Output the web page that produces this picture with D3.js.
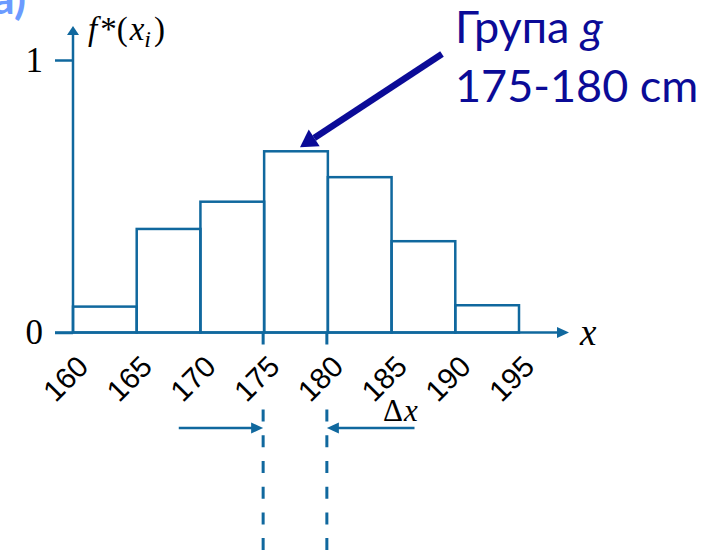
<!DOCTYPE html>
<html>
<head>
<meta charset="utf-8">
<title>Histogram f*(x_i)</title>
<script src="https://d3js.org/d3.v7.min.js"></script>
<style>
  body { margin: 0; background: #fff; }
  svg { display: block; }
</style>
</head>
<body>
<svg id="chart" width="715" height="551"></svg>
<script>
// data
var binEdges = [160, 165, 170, 175, 180, 185, 190, 195];
var binFreq = [0.095, 0.38, 0.48, 0.665, 0.57, 0.335, 0.1];
var xTickLabels = ["160", "165", "170", "175", "180", "185", "190", "195"];
var yTickValues = [0, 1];
var yTickLabels = ["0", "1"];
var groupBin = [175, 180];
var deltaFrom = [168.3, 186.8];
var noteLine1 = "Група ";
var noteLine2 = "175-180 cm";

var blue = "#10689e";
var navy = "#0b0b97";
var svg = d3.select("#chart");

var x = d3.scaleLinear().domain([160, 195]).range([73, 519]);
var y = d3.scaleLinear().domain([0, 1]).range([332.5, 60]);

// dashed guides for group g
svg.selectAll(".guide")
  .data(groupBin)
  .enter().append("line")
    .attr("x1", function(d) { return x(d) - 1; })
    .attr("x2", function(d) { return x(d) - 1; })
    .attr("y1", y(0))
    .attr("y2", 551)
    .attr("stroke", blue)
    .attr("stroke-width", 3)
    .attr("stroke-dasharray", "12,13.7");

// bars
var bins = binFreq.map(function(f, i) {
  return { x0: binEdges[i], x1: binEdges[i + 1], f: f };
});
svg.selectAll(".bar")
  .data(bins)
  .enter().append("rect")
    .attr("x", function(d) { return x(d.x0); })
    .attr("y", function(d) { return y(d.f); })
    .attr("width", function(d) { return x(d.x1) - x(d.x0); })
    .attr("height", function(d) { return y(0) - y(d.f); })
    .attr("fill", "none")
    .attr("stroke", blue)
    .attr("stroke-width", 2.5);

// y axis
var yAxis = d3.axisLeft(y)
  .tickValues(yTickValues)
  .tickFormat(function(d, i) { return yTickLabels[i]; })
  .tickSize(18)
  .tickPadding(12)
  .tickSizeOuter(0);
var yAxisGroup = svg.append("g")
  .attr("transform", "translate(" + x(160) + ",0)")
  .call(yAxis);
yAxisGroup.select(".domain").remove();
yAxisGroup.selectAll(".tick line").attr("stroke", blue).attr("stroke-width", 2.5);
yAxisGroup.selectAll(".tick text")
  .attr("fill", "#000")
  .style("font-family", "'Liberation Serif', serif")
  .style("font-size", "35px");
svg.append("line")
  .attr("x1", x(160)).attr("x2", x(160))
  .attr("y1", y(0)).attr("y2", 35)
  .attr("stroke", blue).attr("stroke-width", 2.5);
svg.append("path")
  .attr("d", "M" + (x(160) - 6) + ",35L" + (x(160) + 6) + ",35L" + x(160) + ",26Z")
  .attr("fill", blue);

// x axis
var labelShift = "translate(-8,46) rotate(-45)";
var xAxis = d3.axisBottom(x)
  .tickValues(binEdges)
  .tickFormat(function(d, i) { return xTickLabels[i]; })
  .tickSize(0);
var xAxisGroup = svg.append("g")
  .attr("transform", "translate(0," + y(0) + ")")
  .call(xAxis);
xAxisGroup.select(".domain").remove();
xAxisGroup.selectAll(".tick text")
  .attr("y", 0)
  .attr("dy", "0.35em")
  .attr("text-anchor", "middle")
  .attr("transform", labelShift)
  .attr("fill", "#000")
  .style("font-family", "'Liberation Sans', Arial, sans-serif")
  .style("font-size", "29.5px");
xAxisGroup.selectAll(".tick").each(function() {
  var t = d3.select(this).select("text");
  var b = t.node().getBBox();
  d3.select(this).insert("rect", "text")
    .attr("x", b.x - 3).attr("y", b.y - 3)
    .attr("width", b.width + 6).attr("height", b.height + 6)
    .attr("transform", labelShift)
    .attr("fill", "#fff");
});
svg.append("line")
  .attr("x1", 55).attr("x2", 558)
  .attr("y1", y(0)).attr("y2", y(0))
  .attr("stroke", blue).attr("stroke-width", 2.5);
svg.append("path")
  .attr("d", "M557," + (y(0) - 5.5) + "L557," + (y(0) + 5.5) + "L569," + y(0) + "Z")
  .attr("fill", blue);

// axis titles
var serif = "'Liberation Serif', 'Times New Roman', serif";
svg.append("text")
  .attr("x", 580).attr("y", 345)
  .style("font-family", serif).style("font-size", "37px").style("font-style", "italic")
  .text("x");
var fLabel = svg.append("text")
  .attr("x", 88).attr("y", 40)
  .style("font-family", serif).style("font-size", "33px");
fLabel.append("tspan").style("font-style", "italic").text("f");
fLabel.append("tspan").attr("dx", 3).text("*(");
fLabel.append("tspan").style("font-style", "italic").attr("dx", 2).text("x");
fLabel.append("tspan").style("font-style", "italic").style("font-size", "24px").attr("dy", 7).text("i");
fLabel.append("tspan").attr("dy", -7).attr("dx", 3).text(")");

// delta x arrows
function hArrow(from, to) {
  var x0 = x(from), x1 = x(to) - 1, yy = 428;
  var dir = x1 > x0 ? 1 : -1;
  svg.append("line")
    .attr("x1", x0).attr("x2", x1 - dir * 10)
    .attr("y1", yy).attr("y2", yy)
    .attr("stroke", blue).attr("stroke-width", 2.5);
  svg.append("path")
    .attr("d", "M" + (x1 - dir * 12) + "," + (yy - 5.5) + "L" + (x1 - dir * 12) + "," + (yy + 5.5) + "L" + x1 + "," + yy + "Z")
    .attr("fill", blue);
}
hArrow(deltaFrom[0], groupBin[0]);
hArrow(deltaFrom[1], groupBin[1]);
var dx = svg.append("text")
  .attr("x", 383).attr("y", 421)
  .style("font-family", serif).style("font-size", "31px");
dx.append("tspan").text("Δ");
dx.append("tspan").style("font-style", "italic").attr("dx", 1).text("x");

// annotation
var note = svg.append("g")
  .attr("fill", navy)
  .style("font-family", "Lato, 'Open Sans', sans-serif")
  .style("font-size", "45px");
var l1 = note.append("text").attr("x", 455).attr("y", 43);
l1.append("tspan").text(noteLine1);
l1.append("tspan").style("font-style", "italic").text("g");
note.append("text").attr("x", 455).attr("y", 102).text(noteLine2);

var tipX = x(177.5) + 4, tipY = y(binFreq[3]) - 4;
var startX = 442, startY = 54;
var len = Math.hypot(startX - tipX, startY - tipY);
var ux = (startX - tipX) / len, uy = (startY - tipY) / len;
var bx = tipX + ux * 17, by = tipY + uy * 17;
svg.append("line")
  .attr("x1", startX).attr("y1", startY)
  .attr("x2", bx).attr("y2", by)
  .attr("stroke", navy).attr("stroke-width", 6.5);
svg.append("path")
  .attr("d", "M" + tipX + "," + tipY +
    "L" + (bx - uy * 10) + "," + (by + ux * 10) +
    "L" + (bx + uy * 10) + "," + (by - ux * 10) + "Z")
  .attr("fill", navy);

// cut-off panel label
svg.append("text")
  .attr("x", 26).attr("y", 14)
  .attr("text-anchor", "end")
  .attr("fill", "#6b9bff")
  .style("font-family", "Lato, sans-serif")
  .style("font-size", "44px")
  .style("font-weight", "bold")
  .text("а)");
</script>
</body>
</html>
